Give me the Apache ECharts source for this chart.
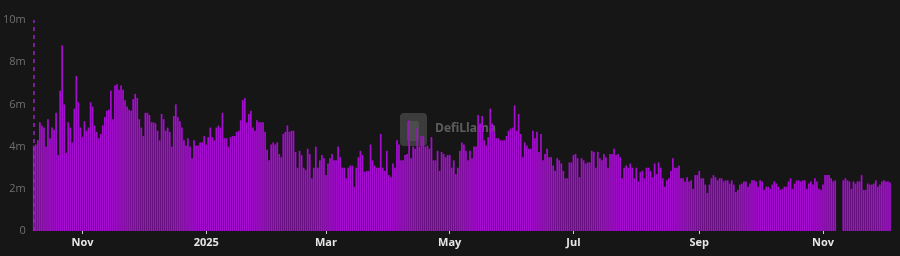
<!DOCTYPE html>
<html><head><meta charset="utf-8">
<script src="https://cdn.jsdelivr.net/npm/echarts@6/dist/echarts.min.js"></script>
<style>html,body{margin:0;padding:0;background:#161616;}#c{width:900px;height:256px;}</style>
</head><body><div id="c"></div>
<script>
// Daily volume (millions), Oct 8 2024 .. Dec 4 2025
const startDate = '2024-10-08';
const vol2024 = [
4.05,4.1,4.3,5.15,5.0,4.9,4.0,5.3,4.4,4.9,
4.8,5.6,3.6,6.65,8.8,6.0,3.7,5.15,4.9,4.2,
5.8,7.35,6.1,4.9,4.45,5.2,4.75,4.9,6.1,5.9,
5.0,4.7,4.4,4.6,5.0,5.4,5.7,5.75,6.65,5.3,
6.9,6.95,6.7,6.9,6.7,6.2,5.9,5.75,5.7,6.25,
6.5,6.3,5.3,4.9,4.5,5.6,5.6,5.5,5.15,5.15,
5.1,4.75,4.3,5.55,5.3,4.75,4.9,4.7,4.0,5.45,
6.0,5.4,5.2,4.9,4.3,4.05,4.4,4.0,3.45,4.3,
4.05,4.05,4.2,4.2,4.5];
const volQ1_2025 = [
4.1,4.45,4.9,4.45,4.3,
4.9,5.0,4.9,5.6,4.4,4.4,4.0,4.45,4.5,4.5,
4.7,4.75,5.25,6.2,6.3,5.15,5.55,5.7,4.9,4.75,
5.25,5.15,5.15,5.15,4.7,3.85,3.35,4.1,4.2,4.1,
4.2,3.65,3.5,4.6,4.7,5.0,4.7,4.75,4.75,3.75,
3.0,3.8,3.6,3.0,2.9,3.9,3.65,2.5,3.0,4.0,
3.0,3.35,3.6,3.45,2.65,3.2,3.45,3.65,3.35,3.35,
4.0,3.5,3.0,3.0,2.5,3.0,3.1,3.1,2.1,3.0,
3.5,3.8,3.6,2.8,2.85,2.85,4.1,3.35,3.1,3.0,
3.0,4.6,3.0,2.85,3.8];
const volQ2_2025 = [
2.65,2.55,3.2,3.0,4.3,
4.1,3.35,3.35,3.6,3.65,5.25,3.45,4.0,3.9,4.9,
4.0,4.5,4.5,4.0,4.05,3.9,4.45,3.35,3.35,3.8,
2.85,3.75,3.65,3.5,3.6,3.6,3.0,3.35,2.7,3.0,
3.8,4.2,4.1,3.8,3.35,3.8,3.45,4.0,4.0,5.5,
5.1,5.45,4.3,4.05,4.45,5.8,5.1,4.7,4.4,4.4,
4.3,4.3,4.3,4.5,4.75,4.85,4.9,5.95,4.75,5.55,
4.6,3.5,4.2,4.05,3.9,3.9,4.75,4.4,4.7,3.75,
4.6,3.35,3.65,3.9,3.5,3.5,3.1,2.85,3.45,3.35,
3.2,2.85,2.5,2.5,3.25,3.25];
const volQ3_2025 = [
3.6,3.65,3.45,2.55,
3.45,3.35,3.2,3.25,3.25,3.8,3.75,3.0,3.75,3.45,
3.35,3.65,3.5,3.0,3.65,3.65,3.9,3.6,3.65,3.5,
2.5,3.0,3.1,3.0,3.2,3.0,2.5,3.0,2.35,2.8,
2.85,2.5,3.0,3.0,2.85,2.55,3.2,2.7,3.25,3.0,
2.5,2.1,2.4,2.5,2.85,3.45,3.0,3.0,3.1,2.5,
2.5,2.35,2.55,2.35,2.4,2.0,2.65,2.65,2.85,2.5,
2.5,2.2,1.8,2.2,2.5,2.65,2.55,2.4,2.5,2.5,
2.35,2.4,2.4,2.25,2.4,2.2,1.85,1.95,2.2,2.25,
2.35,2.35,2.1,2.25,2.4,2.4,2.35,2.1];
const volQ4_2025 = [
2.4,2.35,
1.95,2.1,2.1,2.0,2.2,2.35,2.25,2.1,1.95,2.0,
2.1,2.1,2.35,2.5,2.0,2.25,2.4,2.4,2.35,2.4,
2.4,2.0,2.25,2.35,2.2,2.5,2.35,2.0,1.95,2.2,
2.65,2.65,2.65,2.5,2.35,2.4,0,0,0,2.4,
2.5,2.4,2.35,2.0,2.35,2.25,2.35,2.35,2.65,1.95,
1.95,2.25,2.2,2.2,2.25,2.4,2.1,2.2,2.35,2.4,
2.35,2.35,2.3];
const tickDates = ['2024-11-01','2025-01-01','2025-03-01','2025-05-01','2025-07-01','2025-09-01','2025-11-01'];
const tickTexts = ['Nov','2025','Mar','May','Jul','Sep','Nov'];
const yTicks = [0,2,4,6,8,10];

const values = [].concat(vol2024, volQ1_2025, volQ2_2025, volQ3_2025, volQ4_2025);
const dates = [];
{
  const d0 = new Date(startDate + 'T00:00:00Z');
  for (let i = 0; i < values.length; i++) {
    const d = new Date(d0.getTime() + i * 86400000);
    dates.push(d.toISOString().slice(0, 10));
  }
}
const isTick = (idx, val) => tickDates.indexOf(val) >= 0;

const chart = echarts.init(document.getElementById('c'), null, {renderer: 'canvas'});
chart.setOption({
  backgroundColor: '#161616',
  animation: false,
  grid: {left: 32, right: 9, top: 20, bottom: 25},
  graphic: [
    {type: 'rect', z: 0, shape: {x: 400, y: 113, width: 27, height: 33, r: 4},
     style: {fill: 'rgba(140,140,140,0.33)'}},
    {type: 'rect', z: 0, shape: {x: 407, y: 121, width: 12, height: 20, r: 2},
     style: {fill: 'rgba(95,95,95,0.45)'}},
    {type: 'text', z: 0, left: 435, top: 123,
     style: {text: 'DefiLlama', fill: 'rgba(255,255,255,0.3)', font: 'bold 12px "Open Sans", sans-serif'}}
  ],
  xAxis: {
    type: 'category',
    data: dates,
    boundaryGap: true,
    axisLine: {show: false},
    axisTick: {show: true, alignWithLabel: true, interval: isTick, length: 3, lineStyle: {color: '#cccccc'}},
    axisLabel: {
      interval: isTick, margin: 6, color: '#e6e6e6', fontSize: 11, fontWeight: 'bold',
      fontFamily: '"Open Sans", sans-serif',
      formatter: v => { const k = tickDates.indexOf(v); return k >= 0 ? tickTexts[k] : ''; }
    },
    splitLine: {show: false}
  },
  yAxis: {
    type: 'value', min: yTicks[0], max: yTicks[yTicks.length - 1], interval: 2,
    axisLine: {show: false}, axisTick: {show: false}, splitLine: {show: false},
    axisLabel: {color: '#6f6f6f', fontSize: 11, margin: 7, fontFamily: '"Open Sans", sans-serif',
      formatter: v => v === 0 ? '0' : v + 'm'}
  },
  series: [{
    type: 'bar',
    data: values,
    barCategoryGap: '15%',
    itemStyle: {color: '#a50dd0'},
    z: 2,
    markLine: {
      silent: true, symbol: ['none', 'none'], label: {show: false},
      lineStyle: {color: '#a020c8', type: [4, 4], width: 1.5},
      data: [{xAxis: dates[0]}]
    }
  }]
});
</script></body></html>
